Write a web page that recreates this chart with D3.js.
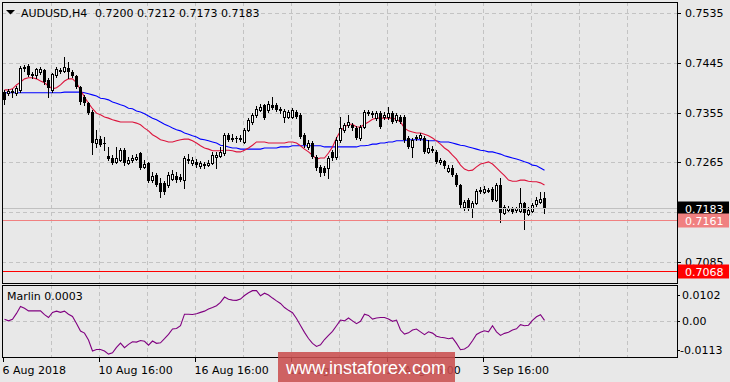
<!DOCTYPE html>
<html><head><meta charset="utf-8">
<script src="https://cdn.jsdelivr.net/npm/d3@7"></script>
<style>
html,body{margin:0;padding:0;background:#e8e8e8;}
svg{display:block;}
text{font-family:"DejaVu Sans",sans-serif;font-size:11px;}
</style>
</head><body>
<svg id="c" width="730" height="382"></svg>
<script>
// ---------- DATA ----------
const symbol = "AUDUSD,H4";
const open = [0.7392,0.7391,0.7394,0.7391,0.7396,0.7436,0.7439,0.7425,0.7423,0.7428,
0.7432,0.7414,0.7396,0.7423,0.7430,0.7430,0.7436,0.7428,0.7421,0.7401,
0.7383,0.7372,0.7356,0.7300,0.7307,0.7300,0.7277,0.7273,0.7266,0.7269,
0.7287,0.7264,0.7269,0.7271,0.7282,0.7257,0.7264,0.7233,0.7242,0.7228,
0.7228,0.7224,0.7235,0.7241,0.7239,0.7233,0.7269,0.7264,0.7266,0.7259,
0.7262,0.7260,0.7264,0.7275,0.7277,0.7282,0.7315,0.7307,0.7309,0.7307,
0.7302,0.7324,0.7338,0.7351,0.7360,0.7369,0.7360,0.7369,0.7369,0.7362,
0.7347,0.7347,0.7347,0.7356,0.7351,0.7315,0.7293,0.7300,0.7275,0.7257,
0.7255,0.7255,0.7284,0.7275,0.7306,0.7324,0.7333,0.7333,0.7327,0.7309,
0.7329,0.7354,0.7354,0.7345,0.7354,0.7347,0.7347,0.7354,0.7342,0.7347,
0.7347,0.7309,0.7293,0.7309,0.7309,0.7309,0.7284,0.7289,0.7284,0.7266,
0.7268,0.7250,0.7255,0.7242,0.7224,0.7184,0.7197,0.7183,0.7192,0.7213,
0.7212,0.7213,0.7217,0.7197,0.7224,0.7174,0.7179,0.7183,0.7179,0.7177,
0.7192,0.7172,0.7177,0.7190,0.7194,0.7200];
const high = [0.7396,0.7398,0.7398,0.7403,0.7439,0.7441,0.7443,0.7428,0.7436,0.7437,
0.7434,0.7418,0.7427,0.7437,0.7436,0.7456,0.7446,0.7432,0.7423,0.7403,
0.7387,0.7374,0.7360,0.7324,0.7313,0.7311,0.7293,0.7278,0.7293,0.7291,
0.7291,0.7275,0.7278,0.7280,0.7284,0.7269,0.7266,0.7248,0.7246,0.7237,
0.7231,0.7248,0.7251,0.7248,0.7244,0.7277,0.7280,0.7275,0.7271,0.7268,
0.7266,0.7269,0.7284,0.7284,0.7293,0.7318,0.7318,0.7316,0.7313,0.7315,
0.7327,0.7345,0.7354,0.7367,0.7371,0.7371,0.7376,0.7383,0.7372,0.7365,
0.7362,0.7360,0.7363,0.7360,0.7354,0.7318,0.7306,0.7304,0.7278,0.7260,
0.7259,0.7277,0.7287,0.7311,0.7347,0.7336,0.7351,0.7336,0.7331,0.7333,
0.7360,0.7360,0.7358,0.7358,0.7358,0.7356,0.7365,0.7358,0.7354,0.7351,
0.7351,0.7313,0.7309,0.7315,0.7318,0.7313,0.7306,0.7295,0.7287,0.7273,
0.7269,0.7260,0.7260,0.7246,0.7226,0.7197,0.7201,0.7195,0.7217,0.7221,
0.7222,0.7219,0.7221,0.7228,0.7237,0.7188,0.7186,0.7184,0.7184,0.7219,
0.7194,0.7184,0.7192,0.7203,0.7212,0.7212];
const low = [0.7371,0.7387,0.7383,0.7387,0.7392,0.7430,0.7421,0.7418,0.7418,0.7425,
0.7407,0.7383,0.7392,0.7419,0.7427,0.7428,0.7418,0.7419,0.7400,0.7371,
0.7369,0.7353,0.7280,0.7293,0.7295,0.7287,0.7269,0.7262,0.7264,0.7268,
0.7260,0.7262,0.7266,0.7269,0.7253,0.7255,0.7230,0.7230,0.7222,0.7203,
0.7208,0.7221,0.7233,0.7230,0.7231,0.7219,0.7264,0.7260,0.7257,0.7255,
0.7255,0.7259,0.7262,0.7255,0.7275,0.7278,0.7304,0.7304,0.7302,0.7304,
0.7300,0.7322,0.7334,0.7347,0.7358,0.7343,0.7356,0.7362,0.7358,0.7354,
0.7338,0.7345,0.7345,0.7345,0.7309,0.7293,0.7289,0.7273,0.7251,0.7241,
0.7242,0.7237,0.7269,0.7271,0.7302,0.7320,0.7329,0.7324,0.7307,0.7306,
0.7327,0.7351,0.7347,0.7342,0.7327,0.7343,0.7343,0.7336,0.7338,0.7336,
0.7302,0.7291,0.7275,0.7306,0.7306,0.7282,0.7282,0.7284,0.7264,0.7262,
0.7255,0.7248,0.7241,0.7222,0.7183,0.7179,0.7179,0.7166,0.7190,0.7210,
0.7210,0.7212,0.7195,0.7195,0.7157,0.7172,0.7177,0.7174,0.7175,0.7175,
0.7145,0.7170,0.7175,0.7186,0.7192,0.7173];
const close = [0.7378,0.7394,0.7391,0.7400,0.7436,0.7437,0.7423,0.7421,0.7434,0.7434,
0.7410,0.7400,0.7425,0.7434,0.7432,0.7437,0.7428,0.7421,0.7401,0.7374,
0.7372,0.7354,0.7300,0.7307,0.7296,0.7298,0.7271,0.7264,0.7273,0.7287,
0.7264,0.7269,0.7273,0.7275,0.7255,0.7262,0.7231,0.7241,0.7224,0.7212,
0.7212,0.7242,0.7244,0.7233,0.7233,0.7273,0.7271,0.7269,0.7260,0.7264,
0.7259,0.7264,0.7278,0.7278,0.7284,0.7315,0.7306,0.7309,0.7307,0.7309,
0.7324,0.7342,0.7351,0.7362,0.7365,0.7345,0.7371,0.7363,0.7360,0.7358,
0.7358,0.7356,0.7360,0.7347,0.7311,0.7296,0.7300,0.7275,0.7255,0.7246,
0.7246,0.7273,0.7273,0.7306,0.7327,0.7333,0.7338,0.7327,0.7309,0.7329,
0.7356,0.7356,0.7351,0.7354,0.7329,0.7351,0.7354,0.7338,0.7351,0.7338,
0.7306,0.7293,0.7306,0.7311,0.7315,0.7284,0.7291,0.7286,0.7266,0.7269,
0.7259,0.7255,0.7242,0.7224,0.7188,0.7194,0.7183,0.7192,0.7213,0.7215,
0.7217,0.7215,0.7197,0.7224,0.7174,0.7184,0.7183,0.7175,0.7183,0.7192,
0.7174,0.7179,0.7188,0.7197,0.7199,0.7183];
const maFast = [0.7396,0.7396,0.7398,0.7405,0.7410,0.7416,0.7418,0.7418,0.7416,0.7412,
0.7409,0.7403,0.7398,0.7400,0.7405,0.7412,0.7416,0.7416,0.7409,0.7396,
0.7383,0.7372,0.7362,0.7354,0.7351,0.7347,0.7345,0.7342,0.7340,0.7338,
0.7338,0.7338,0.7338,0.7336,0.7333,0.7327,0.7322,0.7315,0.7311,0.7306,
0.7304,0.7302,0.7302,0.7304,0.7306,0.7307,0.7307,0.7304,0.7300,0.7295,
0.7291,0.7289,0.7286,0.7286,0.7286,0.7287,0.7287,0.7286,0.7284,0.7284,
0.7287,0.7291,0.7296,0.7302,0.7302,0.7302,0.7300,0.7300,0.7300,0.7300,
0.7300,0.7302,0.7302,0.7300,0.7295,0.7289,0.7284,0.7278,0.7271,0.7273,
0.7273,0.7282,0.7293,0.7309,0.7322,0.7329,0.7334,0.7334,0.7329,0.7329,
0.7334,0.7338,0.7343,0.7345,0.7345,0.7345,0.7345,0.7345,0.7343,0.7338,
0.7327,0.7322,0.7320,0.7318,0.7318,0.7316,0.7313,0.7309,0.7304,0.7298,
0.7291,0.7286,0.7278,0.7271,0.7260,0.7253,0.7250,0.7251,0.7257,0.7262,
0.7264,0.7266,0.7262,0.7255,0.7248,0.7241,0.7233,0.7231,0.7231,0.7233,
0.7233,0.7231,0.7230,0.7230,0.7228,0.7224];
const maSlow = [0.7391,0.7391,0.7391,0.7391,0.7391,0.7391,0.7391,0.7391,0.7391,0.7391,
0.7391,0.7391,0.7391,0.7391,0.7391,0.7392,0.7392,0.7392,0.7392,0.7392,
0.7391,0.7389,0.7387,0.7385,0.7381,0.7380,0.7378,0.7374,0.7372,0.7369,
0.7367,0.7363,0.7362,0.7358,0.7356,0.7353,0.7349,0.7345,0.7342,0.7338,
0.7334,0.7331,0.7327,0.7324,0.7322,0.7318,0.7316,0.7313,0.7311,0.7307,
0.7306,0.7304,0.7302,0.7300,0.7296,0.7295,0.7293,0.7291,0.7291,0.7289,
0.7289,0.7289,0.7289,0.7289,0.7289,0.7291,0.7291,0.7291,0.7291,0.7293,
0.7293,0.7293,0.7295,0.7295,0.7295,0.7295,0.7295,0.7295,0.7295,0.7295,
0.7293,0.7293,0.7293,0.7293,0.7293,0.7293,0.7293,0.7293,0.7293,0.7295,
0.7295,0.7296,0.7298,0.7298,0.7300,0.7300,0.7302,0.7302,0.7304,0.7304,
0.7304,0.7306,0.7306,0.7306,0.7306,0.7306,0.7304,0.7304,0.7304,0.7302,
0.7302,0.7302,0.7300,0.7298,0.7296,0.7295,0.7293,0.7291,0.7289,0.7287,
0.7286,0.7284,0.7284,0.7282,0.7280,0.7277,0.7275,0.7273,0.7271,0.7269,
0.7266,0.7264,0.7260,0.7259,0.7255,0.7251];
const marlin = [0.0007,0.0001,0.0007,0.0030,0.0057,0.0050,0.0040,0.0040,0.0040,0.0040,
0.0025,0.0014,0.0034,0.0039,0.0034,0.0039,0.0027,0.0018,-0.0009,-0.0039,
-0.0047,-0.0074,-0.0117,-0.0111,-0.0111,-0.0117,-0.0129,-0.0124,-0.0103,-0.0086,
-0.0104,-0.0091,-0.0081,-0.0082,-0.0076,-0.0079,-0.0094,-0.0078,-0.0087,-0.0085,
-0.0069,-0.0052,-0.0031,-0.0029,-0.0018,0.0027,0.0027,0.0026,0.0029,0.0034,
0.0039,0.0047,0.0053,0.0060,0.0073,0.0094,0.0085,0.0082,0.0081,0.0086,
0.0100,0.0111,0.0119,0.0119,0.0099,0.0109,0.0102,0.0090,0.0079,0.0069,
0.0053,0.0042,0.0033,0.0010,-0.0017,-0.0044,-0.0068,-0.0087,-0.0099,-0.0093,
-0.0072,-0.0056,-0.0040,-0.0018,0.0004,0.0001,0.0012,0.0001,-0.0010,-0.0001,
0.0027,0.0022,0.0008,0.0012,0.0014,0.0014,0.0008,-0.0001,0.0004,-0.0035,
-0.0051,-0.0046,-0.0035,-0.0031,-0.0042,-0.0053,-0.0042,-0.0047,-0.0059,-0.0063,
-0.0065,-0.0069,-0.0066,-0.0087,-0.0112,-0.0109,-0.0099,-0.0077,-0.0052,-0.0044,
-0.0038,-0.0042,-0.0018,-0.0042,-0.0056,-0.0048,-0.0044,-0.0035,-0.0030,-0.0014,
-0.0018,-0.0016,0.0003,0.0017,0.0025,0.0003];
const priceTicks = [0.7535,0.7445,0.7355,0.7265,0.7175,0.7085];
const priceTickLabels = ["0.7535","0.7445","0.7355","0.7265","","0.7085"];
const marlinTicks = [0.0102,0.00,-0.0113];
const marlinTickLabels = ["0.0102","0.00","-0.0113"];
const timeLabels = ["6 Aug 2018","10 Aug 16:00","16 Aug 16:00","22 Aug 16:00","28 Aug 16:00","3 Sep 16:00"];
const timeLabelBars = [0,24,48,72,96,120];
const gridBars = [12,24,36,48,60,72,84,96,108,120,132,144,156];
const levels = [0.7183,0.7161,0.7068];
const watermark = "www.instaforex.com";

// ---------- LAYOUT ----------
const W=730,H=382;
const L=2,R=677,mTop=2,mBot=283,iTop=285,iBot=357;
const svg=d3.select("#c");
svg.append("rect").attr("width",W).attr("height",H).attr("fill","#e8e8e8");

const x=d3.scaleLinear().domain([0,1]).range([4,8]);
const y=d3.scaleLinear().domain([0.7085,0.7535]).range([262,13]);
const ym=d3.scaleLinear().domain([-0.0113,0.0102]).range([350,295]);
const fmt=d3.format(".4f");

const defs=svg.append("defs");
defs.append("clipPath").attr("id","cm").append("rect").attr("x",L+1).attr("y",mTop+1).attr("width",R-L-1).attr("height",mBot-mTop-1);
defs.append("clipPath").attr("id","ci").append("rect").attr("x",L+1).attr("y",iTop+1).attr("width",R-L-1).attr("height",iBot-iTop-1);

const gridColor="#c3c3c3";
const main=svg.append("g").attr("clip-path","url(#cm)");
const ind=svg.append("g").attr("clip-path","url(#ci)");

// vertical gridlines
[main,ind].forEach((g,k)=>{
  g.selectAll("line.vg").data(gridBars).enter().append("line")
   .attr("x1",d=>Math.round(x(d))-0.5).attr("x2",d=>Math.round(x(d))-0.5)
   .attr("y1",k?iTop:mTop).attr("y2",k?iBot:mBot)
   .attr("stroke",gridColor).attr("stroke-dasharray","4,3");
});
// horizontal gridlines
main.selectAll("line.hg").data(priceTicks).enter().append("line")
  .attr("x1",L).attr("x2",R)
  .attr("y1",d=>Math.round(y(d))+0.5).attr("y2",d=>Math.round(y(d))+0.5)
  .attr("stroke",gridColor).attr("stroke-dasharray","4,3");
ind.append("line").attr("x1",L).attr("x2",R)
  .attr("y1",Math.round(ym(0))+0.5).attr("y2",Math.round(ym(0))+0.5)
  .attr("stroke",gridColor).attr("stroke-dasharray","4,3");

// moving averages
const ln=d3.line().x((d,i)=>x(i)+0.5).y(d=>y(d));
main.append("path").attr("d",ln(maSlow)).attr("fill","none").attr("stroke","#0000ff").attr("stroke-width",1.1);
main.append("path").attr("d",ln(maFast)).attr("fill","none").attr("stroke","#dc143c").attr("stroke-width",1.1);

// candles
const idx=d3.range(close.length);
main.selectAll("line.wick").data(idx).enter().append("line")
  .attr("x1",i=>x(i)+0.5).attr("x2",i=>x(i)+0.5)
  .attr("y1",i=>Math.round(y(high[i]))).attr("y2",i=>Math.round(y(low[i]))+1)
  .attr("stroke","#000");
main.selectAll("rect.body").data(idx).enter().append("rect")
  .attr("x",i=>close[i]>=open[i]?x(i)-0.5:x(i)-1)
  .attr("width",i=>close[i]>=open[i]?2:3)
  .attr("y",i=>{const t=Math.round(y(Math.max(open[i],close[i])));return close[i]>=open[i]?t+0.5:t;})
  .attr("height",i=>{const h=Math.round(y(Math.min(open[i],close[i])))-Math.round(y(Math.max(open[i],close[i])));return close[i]>=open[i]?Math.max(h,0):Math.max(h,1);})
  .attr("fill",i=>close[i]>=open[i]?"#ffffff":"#000000")
  .attr("stroke",i=>close[i]>=open[i]?"#000":"none");

// level lines (horizontal price levels), drawn as thin filled rects
const levelLine=["#c0c0c0","#f08080","#ff0000"];
const levelBox=["#000000","#f08080","#ff0000"];
svg.selectAll("rect.lv").data(levels).enter().append("rect")
  .attr("x",L+1).attr("width",R-L-1)
  .attr("y",d=>Math.round(y(d))).attr("height",1)
  .attr("fill",(d,i)=>levelLine[i]);

// marlin line
const lm=d3.line().x((d,i)=>x(i)+0.5).y(d=>ym(d));
ind.append("path").attr("d",lm(marlin)).attr("fill","none").attr("stroke","#800080").attr("stroke-width",1.1);

// frames
svg.append("rect").attr("x",L+0.5).attr("y",mTop+0.5).attr("width",R-L).attr("height",mBot-mTop).attr("fill","none").attr("stroke","#000");
svg.append("rect").attr("x",L+0.5).attr("y",iTop+0.5).attr("width",R-L).attr("height",iBot-iTop).attr("fill","none").attr("stroke","#000");

// title
svg.append("path").attr("d","M6,10 L15,10 L10.5,14.5 Z").attr("fill","#000");
svg.append("text").attr("x",21).attr("y",17).attr("fill","#000").text(symbol);
const last=close.length-1;
svg.append("text").attr("x",95).attr("y",17).attr("fill","#000")
  .text([open[last],high[last],low[last],close[last]].map(fmt).join(" "));
svg.append("text").attr("x",7).attr("y",300).attr("fill","#000")
  .text("Marlin "+fmt(marlin[last]));

// price axis
svg.selectAll("line.pt").data(priceTicks).enter().append("line")
  .attr("x1",R).attr("x2",R+4).attr("y1",d=>Math.round(y(d))+0.5).attr("y2",d=>Math.round(y(d))+0.5).attr("stroke","#000");
svg.selectAll("text.pt").data(priceTicks.filter((d,i)=>priceTickLabels[i]!=="")).enter().append("text")
  .attr("x",685).attr("y",d=>y(d)+4).attr("fill","#000").text(fmt);
// level labels
svg.selectAll("rect.lb").data(levels).enter().append("rect")
  .attr("x",678).attr("y",d=>Math.round(y(d))-6.5).attr("width",51).attr("height",14)
  .attr("fill",(d,i)=>levelBox[i]);
svg.selectAll("text.lb").data(levels).enter().append("text")
  .attr("x",685).attr("y",d=>Math.round(y(d))+4.5).attr("fill","#fff").text(fmt);

// marlin axis
svg.selectAll("line.mt").data(marlinTicks).enter().append("line")
  .attr("x1",R).attr("x2",R+3).attr("y1",d=>Math.round(ym(d))+0.5).attr("y2",d=>Math.round(ym(d))+0.5).attr("stroke","#000");
svg.selectAll("text.mt").data(marlinTicks).enter().append("text")
  .attr("x",d=>d<0?680:682).attr("y",d=>ym(d)+4).attr("fill","#000").text((d,i)=>marlinTickLabels[i]);

// time axis
svg.selectAll("line.tt").data(timeLabelBars).enter().append("line")
  .attr("x1",d=>Math.round(x(d))-0.5).attr("x2",d=>Math.round(x(d))-0.5)
  .attr("y1",iBot).attr("y2",iBot+5).attr("stroke","#000");
svg.selectAll("text.tt").data(timeLabelBars).enter().append("text")
  .attr("x",d=>Math.round(x(d))-1.5).attr("y",374).attr("fill","#000").text((d,i)=>timeLabels[i]);

// watermark
svg.append("rect").attr("x",278).attr("y",352).attr("width",177).attr("height",30)
  .attr("fill","#c94f4f").attr("opacity",0.88);
svg.append("text").attr("x",366).attr("y",374).attr("text-anchor","middle")
  .style("font-family","'Liberation Sans',Arial,sans-serif").style("font-size","18px")
  .attr("fill","#ffffff").text(watermark);
</script>
</body></html>
